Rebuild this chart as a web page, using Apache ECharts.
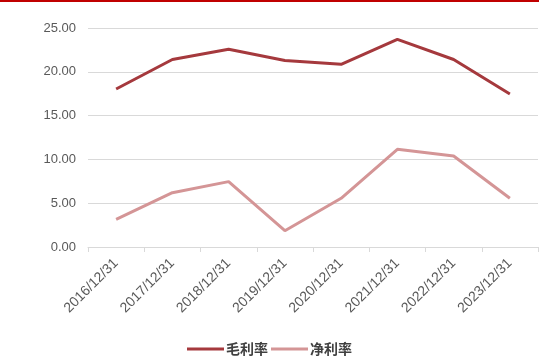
<!DOCTYPE html>
<html>
<head>
<meta charset="utf-8">
<script src="https://cdn.jsdelivr.net/npm/echarts@6/dist/echarts.min.js"></script>
<style>
  html, body { margin: 0; padding: 0; background: #fff; }
  #chart { width: 539px; height: 356px; }
</style>
</head>
<body>
<div id="chart"></div>
<script>
// Period end dates
const categories = ['2016/12/31', '2017/12/31', '2018/12/31', '2019/12/31',
                    '2020/12/31', '2021/12/31', '2022/12/31', '2023/12/31'];
// Gross margin (%)
const grossMargin = [18.04, 21.40, 22.57, 21.30, 20.85, 23.70, 21.40, 17.47];
// Net margin (%)
const netMargin = [3.16, 6.20, 7.46, 1.86, 5.56, 11.15, 10.39, 5.56];
// Value axis ticks
const yMin = 0, yMax = 25, yStep = 5;

const chart = echarts.init(document.getElementById('chart'), null, { renderer: 'canvas' });
const labelFont = '"Liberation Sans", "Noto Sans", sans-serif';

chart.setOption({
  animation: false,
  backgroundColor: '#fff',
  grid: { left: 88, right: 1, top: 28, bottom: 109 },
  legend: {
    top: 337,
    left: 'center',
    itemWidth: 37,
    itemHeight: 3,
    itemGap: 3,
    icon: 'rect',
    textStyle: {
      fontFamily: '"Noto Sans CJK SC", sans-serif',
      fontSize: 14,
      fontWeight: 'bold',
      color: '#404040',
      padding: [0, 0, 0, -3]
    },
    data: ['毛利率', '净利率']
  },
  xAxis: {
    type: 'category',
    data: categories,
    boundaryGap: true,
    axisLine: { lineStyle: { color: '#d9d9d9', width: 1 } },
    axisTick: { show: true, length: 5, lineStyle: { color: '#d9d9d9' } },
    axisLabel: {
      rotate: 45,
      interval: 0,
      margin: 14,
      fontFamily: labelFont,
      fontSize: 14,
      color: '#595959'
    }
  },
  yAxis: {
    type: 'value',
    min: yMin,
    max: yMax,
    interval: yStep,
    axisLine: { show: false },
    axisTick: { show: false },
    splitLine: { lineStyle: { color: '#d9d9d9', width: 1 } },
    axisLabel: {
      margin: 12,
      fontFamily: labelFont,
      fontSize: 13,
      color: '#595959',
      formatter: v => v.toFixed(2)
    }
  },
  series: [
    {
      name: '毛利率',
      type: 'line',
      data: grossMargin,
      symbol: 'none',
      lineStyle: { color: '#a5393d', width: 3 },
      itemStyle: { color: '#a5393d' }
    },
    {
      name: '净利率',
      type: 'line',
      data: netMargin,
      symbol: 'none',
      lineStyle: { color: '#d49596', width: 3 },
      itemStyle: { color: '#d49596' }
    }
  ],
  graphic: [
    {
      type: 'rect',
      left: 0,
      top: 0,
      shape: { width: 539, height: 2 },
      style: { fill: '#c00000' }
    }
  ]
});
</script>
</body>
</html>
